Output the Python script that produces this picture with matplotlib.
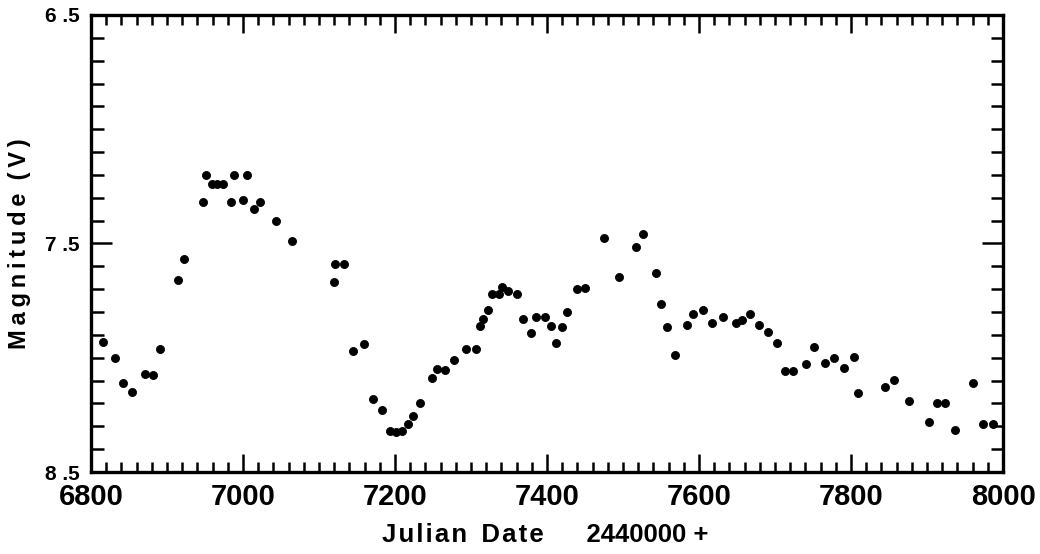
import matplotlib
matplotlib.use('Agg')
import matplotlib.pyplot as plt
from matplotlib.ticker import MultipleLocator, FixedLocator

plt.rcParams['font.family'] = ['Liberation Sans', 'DejaVu Sans']
plt.rcParams['font.weight'] = 'bold'

# 观测数据：儒略日(减去 2440000) 与 V 星等
jd = [6816, 6832, 6842, 6854, 6871, 6882, 6891, 6914, 6922, 6947,
      6951, 6959, 6966, 6974, 6984, 6988, 7000, 7005, 7014, 7022,
      7043, 7064, 7120, 7121, 7133, 7145, 7159, 7171, 7183, 7193,
      7201, 7209, 7217, 7224, 7233, 7249, 7255, 7266, 7278, 7293,
      7307, 7312, 7316, 7322, 7328, 7337, 7341, 7349, 7361, 7368,
      7379, 7385, 7397, 7405, 7412, 7420, 7426, 7439, 7450, 7475,
      7495, 7517, 7526, 7543, 7550, 7558, 7568, 7584, 7592, 7605,
      7617, 7632, 7649, 7657, 7667, 7679, 7691, 7703, 7713, 7724,
      7741, 7751, 7766, 7778, 7791, 7804, 7809, 7845, 7857, 7876,
      7903, 7913, 7924, 7937, 7961, 7974, 7987]
mag = [7.93, 8.00, 8.11, 8.15, 8.07, 8.075, 7.96, 7.66, 7.57, 7.32,
       7.20, 7.24, 7.24, 7.24, 7.32, 7.20, 7.31, 7.20, 7.35, 7.32,
       7.40, 7.49, 7.67, 7.59, 7.59, 7.97, 7.94, 8.18, 8.23, 8.32,
       8.325, 8.32, 8.29, 8.255, 8.20, 8.09, 8.05, 8.055, 8.01, 7.96,
       7.96, 7.86, 7.83, 7.79, 7.72, 7.72, 7.69, 7.71, 7.72, 7.83,
       7.89, 7.82, 7.82, 7.86, 7.935, 7.865, 7.80, 7.70, 7.695, 7.476,
       7.647, 7.515, 7.46, 7.63, 7.765, 7.865, 7.99, 7.857, 7.81, 7.79,
       7.85, 7.82, 7.85, 7.835, 7.81, 7.857, 7.887, 7.935, 8.06, 8.06,
       8.027, 7.953, 8.023, 8.00, 8.045, 7.997, 8.154, 8.128, 8.097, 8.19,
       8.281, 8.20, 8.20, 8.316, 8.11, 8.29, 8.29]

xmajor = [6800, 7000, 7200, 7400, 7600, 7800, 8000]
ymajor = [6.5, 7.5, 8.5]
ylabels = ['6 .5', '7 .5', '8 .5']

fig = plt.figure(figsize=(10.4, 5.54), dpi=100)
ax = fig.add_axes([0.0875, 0.148, 0.877, 0.825])

ax.plot(jd, mag, linestyle='none', marker='o', markersize=5.8,
        color='black', markeredgewidth=0.6)

ax.set_xlim(6800, 8000)
ax.set_ylim(8.5, 6.5)

ax.xaxis.set_major_locator(FixedLocator(xmajor))
ax.xaxis.set_minor_locator(MultipleLocator(20))
ax.yaxis.set_major_locator(FixedLocator(ymajor))
ax.yaxis.set_minor_locator(MultipleLocator(0.1))
ax.set_yticklabels(ylabels)

for s in ax.spines.values():
    s.set_linewidth(2.4)

ax.tick_params(axis='both', which='both', direction='in',
               top=True, right=True, width=1.8, color='black')
ax.tick_params(axis='x', which='major', length=13, labelsize=21, pad=8)
ax.tick_params(axis='x', which='minor', length=7.5)
ax.tick_params(axis='y', which='major', length=15, labelsize=15, pad=8)
ax.tick_params(axis='y', which='minor', length=9)
for lab in ax.get_xticklabels() + ax.get_yticklabels():
    lab.set_fontweight('bold')

ax.set_ylabel('M\u2009a\u2009g\u2009n\u2009i\u2009t\u2009u\u2009d\u2009e  (\u2009V\u2009)',
              fontsize=17, fontweight='bold', labelpad=10)
fig.text(0.524, 0.034, 'J\u200au\u200al\u200ai\u200aa\u200an  D\u200aa\u200at\u200ae      2440000 +',
         ha='center', va='center', fontsize=18.5, fontweight='bold')

fig.savefig('out.png', dpi=100)
